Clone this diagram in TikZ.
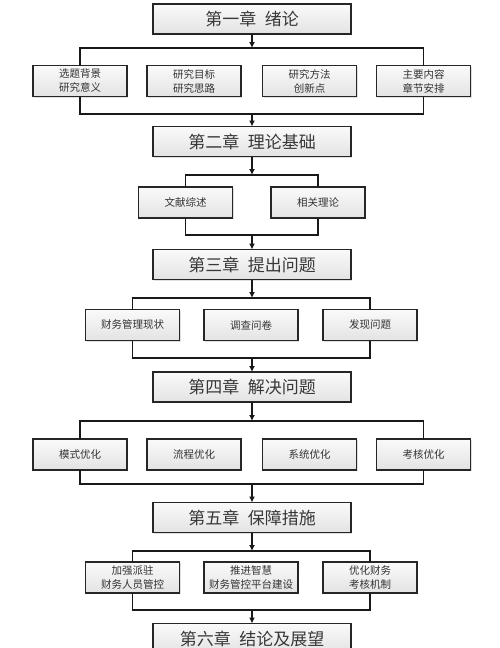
\documentclass[tikz,border=0pt]{standalone}
\usepackage{fontspec}
\usepackage{tikz}
\usetikzlibrary{arrows.meta,shadows}
\newfontfamily\cjk{Noto Sans CJK SC}
\tikzset{
    box/.style={rectangle,draw=black!85,line width=1.6pt,outer sep=0pt,inner sep=2pt,
        top color=gray!4,bottom color=gray!22,
        drop shadow={shadow xshift=1.2pt,shadow yshift=-1.2pt,opacity=0.25}},
    chapbox/.style={box,minimum width=198pt,minimum height=30pt,text=black!78,
        font=\cjk\fontsize{17}{17}\selectfont},
    subbox/.style={box,minimum width=94pt,minimum height=31pt,align=center,text=black!80,
        font=\cjk\fontsize{10.5}{14}\selectfont},
    link/.style={line width=1.4pt,black!90},
    flow/.style={link,arrows={-Latex[length=6pt,width=6pt]}},
    }
\begin{document}
\begin{tikzpicture}[x=1pt,y=-1pt]
    \useasboundingbox[fill=white] (0,0) rectangle (500,648);
    % chapters
		\node[chapbox] (c1) at (252,19) {第一章\hspace{0.5em}绪论};
		\node[chapbox] (c2) at (252,141.5) {第二章\hspace{0.5em}理论基础};
		\node[chapbox] (c3) at (252,264.5) {第三章\hspace{0.5em}提出问题};
		\node[chapbox] (c4) at (252,387) {第四章\hspace{0.5em}解决问题};
		\node[chapbox] (c5) at (252,517.5) {第五章\hspace{0.5em}保障措施};
		\node[chapbox] (c6) at (252,638.5) {第六章\hspace{0.5em}结论及展望};

    % chapter 1
		\node[subbox] (a1) at (80,81) {选题背景\\研究意义};
		\node[subbox] (a2) at (194,81) {研究目标\\研究思路};
		\node[subbox] (a3) at (309.5,81) {研究方法\\创新点};
		\node[subbox] (a4) at (423.5,81) {主要内容\\章节安排};
		\coordinate (at) at (252,48);
		\coordinate (ab) at (252,114);

    % chapter 2
		\node[subbox] (b1) at (185.5,202.5) {文献综述};
		\node[subbox] (b2) at (318,202.5) {相关理论};
		\coordinate (bt) at (252,175);
		\coordinate (bb) at (252,235);

    % chapter 3
		\node[subbox] (d1) at (132.5,325) {财务管理现状};
		\node[subbox] (d2) at (251,325) {调查问卷};
		\node[subbox] (d3) at (370,325) {发现问题};
		\coordinate (dt) at (252,298);
		\coordinate (db) at (252,358);

    % chapter 4
		\node[subbox] (e1) at (80,454.5) {模式优化};
		\node[subbox] (e2) at (194,454.5) {流程优化};
		\node[subbox] (e3) at (309.5,454.5) {系统优化};
		\node[subbox] (e4) at (423.5,454.5) {考核优化};
		\coordinate (et) at (252,421);
		\coordinate (eb) at (252,484);

    % chapter 5
		\node[subbox] (f1) at (132.5,577.5) {加强派驻\\财务人员管控};
		\node[subbox] (f2) at (251,577.5) {推进智慧\\财务管控平台建设};
		\node[subbox] (f3) at (370,577.5) {优化财务\\考核机制};
		\coordinate (ft) at (252,551);
		\coordinate (fb) at (252,610);

	\draw[flow] (c1) -- (at);
	\draw[link] (a1.north) |- (at) -| (a4.north);
	\draw[link] (a1.south) |- (ab) -| (a4.south);
	\draw[flow] (ab) -- (c2);

	\draw[flow] (c2) -- (bt);
	\draw[link] (b1.north) |- (bt) -| (b2.north);
	\draw[link] (b1.south) |- (bb) -| (b2.south);
	\draw[flow] (bb) -- (c3);

	\draw[flow] (c3) -- (dt);
	\draw[link] (d1.north) |- (dt) -| (d3.north);
	\draw[link] (d1.south) |- (db) -| (d3.south);
	\draw[flow] (db) -- (c4);

	\draw[flow] (c4) -- (et);
	\draw[link] (e1.north) |- (et) -| (e4.north);
	\draw[link] (e1.south) |- (eb) -| (e4.south);
	\draw[flow] (eb) -- (c5);

	\draw[flow] (c5) -- (ft);
	\draw[link] (f1.north) |- (ft) -| (f3.north);
	\draw[link] (f1.south) |- (fb) -| (f3.south);
	\draw[flow] (fb) -- (c6);
\end{tikzpicture}
\end{document}
